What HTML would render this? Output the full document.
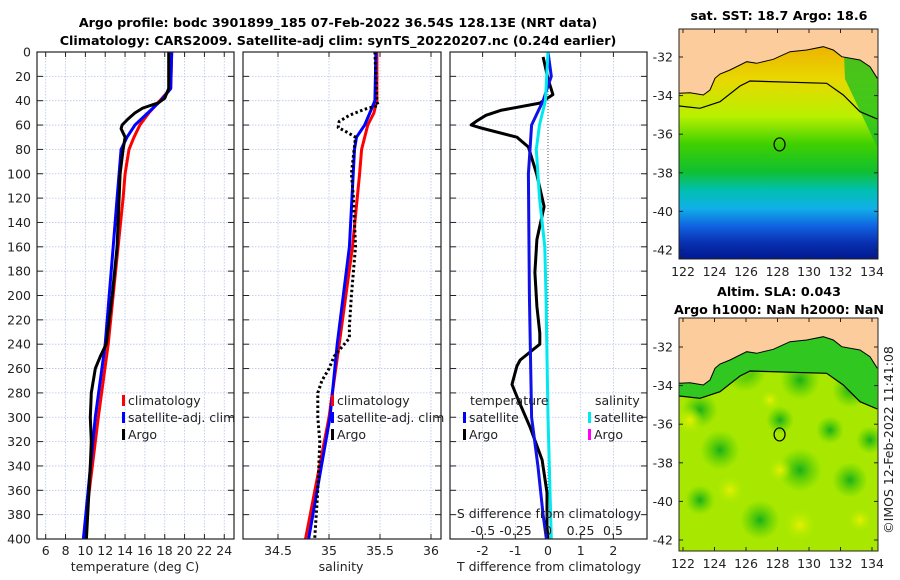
<!DOCTYPE html>
<html><head><meta charset="utf-8"><style>
html,body{margin:0;padding:0;background:#fff;}
svg{display:block;font-family:"DejaVu Sans","Liberation Sans",sans-serif;}
</style></head><body>
<svg id="chart" width="900" height="580" viewBox="0 0 900 580" xmlns="http://www.w3.org/2000/svg">
<defs>
<linearGradient id="sstg" x1="0" y1="0" x2="0" y2="1">
<stop offset="0" stop-color="#f0a000"/>
<stop offset="0.22" stop-color="#e8d800"/>
<stop offset="0.38" stop-color="#b8f000"/>
<stop offset="0.5" stop-color="#40d000"/>
<stop offset="0.62" stop-color="#10c030"/>
<stop offset="0.7" stop-color="#00c0b0"/>
<stop offset="0.78" stop-color="#10b0e8"/>
<stop offset="0.86" stop-color="#1060e0"/>
<stop offset="0.93" stop-color="#0830b0"/>
<stop offset="1" stop-color="#001890"/>
</linearGradient>
<radialGradient id="yb"><stop offset="0" stop-color="#e8f000"/><stop offset="1" stop-color="#b0ec00" stop-opacity="0"/></radialGradient>
<radialGradient id="gb"><stop offset="0" stop-color="#18b018"/><stop offset="1" stop-color="#40c800" stop-opacity="0"/></radialGradient>
<clipPath id="c1"><rect x="679" y="29" width="199" height="230"/></clipPath>
<clipPath id="c2"><rect x="679" y="318" width="199" height="233"/></clipPath>
</defs>
<g id="root"></g>
</svg>
<script>
// ---- data ----
const depthTicks=[0,20,40,60,80,100,120,140,160,180,200,220,240,260,280,300,320,340,360,380,400];
const tempTicks=[6,8,10,12,14,16,18,20,22,24];
const salTicks=[34.5,35,35.5,36];
const dTTicks=[-2,-1,0,1,2];
const dSTicks=[-0.5,-0.25,0,0.25,0.5];
const dSTickLabels=["-0.5","-0.25","0","0.25","0.5"];
const tClimDepth=[0,30,40,50,60,70,80,100,120,160,240,300,400];
const tClim=[18.7,18.6,17.5,16.4,15.5,14.9,14.4,14.0,13.8,13.3,12.3,11.3,9.8];
const tSatDepth=[0,30,40,50,60,70,80,100,120,160,240,300,400];
const tSat=[18.7,18.6,17.6,16.3,15.0,14.2,13.6,13.4,13.2,12.8,12.0,11.0,9.8];
const tArgoDepth=[0,30,38,42,46,50,55,60,63,70,80,100,120,160,200,240,250,260,270,280,300,320,340,400];
const tArgo=[18.4,18.4,18.0,17.3,15.8,15.0,14.3,13.7,13.6,14.0,13.8,13.5,13.4,13.2,12.7,12.1,11.5,11.0,10.8,10.6,10.5,10.6,10.5,10.1];
const sClimDepth=[0,40,50,60,80,100,160,240,300,400];
const sClim=[35.47,35.47,35.44,35.38,35.32,35.3,35.23,35.1,35.0,34.77];
const sSatDepth=[0,40,50,60,70,80,160,240,300,400];
const sSat=[35.46,35.45,35.4,35.35,35.27,35.25,35.2,35.08,35.01,34.8];
const sArgoDepth=[0,40,44,47,52,57,62,66,70,100,120,160,200,225,235,242,250,260,270,280,300,320,360,400];
const sArgo=[35.45,35.47,35.48,35.35,35.2,35.1,35.09,35.18,35.26,35.22,35.24,35.26,35.22,35.2,35.2,35.13,35.05,35.0,34.93,34.89,34.89,34.91,34.89,34.86];
const dTSatDepth=[0,20,40,60,100,200,300,340,380,400];
const dTSat=[0,0.1,-0.15,-0.5,-0.6,-0.57,-0.5,-0.31,-0.15,-0.05];
const dSSatDepth=[0,40,60,80,120,160,200,300,400];
const dSSat=[0,-0.02,-0.065,-0.09,-0.065,-0.025,-0.015,0,0.025];
const dTArgoDepth=[4,22,35,42,48,52,57,60,62,70,78,100,127,154,181,209,231,240,253,258,273,285,308,335,362,390,400];
const dTArgo=[-0.15,0,0.15,-0.25,-1.45,-1.9,-2.2,-2.35,-2.1,-0.95,-0.6,-0.35,-0.12,-0.34,-0.4,-0.34,-0.25,-0.25,-0.85,-0.95,-1.1,-0.92,-0.55,-0.18,-0.03,-0.03,0];
const latTicks=[-32,-34,-36,-38,-40,-42];
const lonTicks=[122,124,126,128,130,132,134];
const argoLon=128.13, argoLat=-36.54;

// ---- helpers ----
const NS="http://www.w3.org/2000/svg";
const root=document.getElementById('root');
function mk(tag,attrs,parent,txt){const e=document.createElementNS(NS,tag);for(const k in attrs)e.setAttribute(k,attrs[k]);if(txt!==undefined)e.textContent=txt;(parent||root).appendChild(e);return e;}
const yD=d=>52+d*1.2175;
const xT=t=>45.7+(t-6)*9.92;
const xS=s=>329+(s-35)*102;
const xDT=t=>548+t*32.7;
const xDS=s=>548+s*130;
const PB=539;

function panel(name,x0,x1,xticks,xf){
  const g=mk('g',{});
  
  
  depthTicks.forEach(d=>{const l=mk('line',{x1:x0,x2:x1,y1:yD(d),y2:yD(d),stroke:'#b8c4ec','stroke-width':0.8,'stroke-dasharray':'1.5,1.5'},g);
    });
  xticks.forEach(t=>{const X=xf(t);const l=mk('line',{x1:X,x2:X,y1:52,y2:PB,stroke:'#b8c4ec','stroke-width':0.8,'stroke-dasharray':'1.5,1.5'},g);
    
    mk('line',{x1:X,x2:X,y1:PB,y2:PB-5,stroke:'#222'},g);mk('line',{x1:X,x2:X,y1:52,y2:57,stroke:'#222'},g);});
  depthTicks.forEach(d=>{mk('line',{x1:x0,x2:x0+6,y1:yD(d),y2:yD(d),stroke:'#222'},g);mk('line',{x1:x1-6,x2:x1,y1:yD(d),y2:yD(d),stroke:'#222'},g);});
  return g;
}
function frame(g,x0,x1,name){const r=mk('rect',{x:x0,y:52,width:x1-x0,height:PB-52,fill:'none',stroke:'#222','stroke-width':1.2},g);}
function line(g,depths,vals,xf,color,name,dash){
  const pts=depths.map((d,i)=>xf(vals[i]).toFixed(1)+','+yD(d).toFixed(1)).join(' ');
  const p=mk('polyline',{points:pts,fill:'none',stroke:color,'stroke-width':3,'stroke-linejoin':'round'},g);
  if(dash)p.setAttribute('stroke-dasharray',dash);
  return p;
}
function txt(s,x,y,opt,parent,name){const t=mk('text',Object.assign({x:x,y:y,'font-size':12.5,fill:'#222'},opt||{}),parent,s);return t;}
function legendEntry(g,x,y,color,label,name){
  const r=mk('rect',{x:x,y:y-9,width:3,height:11,fill:color},g);
  txt(label,x+6,y+1,{},g,name);
}

// titles
txt('Argo profile: bodc 3901899_185 07-Feb-2022 36.54S 128.13E (NRT data)',338,27,{'font-weight':'bold','font-size':12.7,'text-anchor':'middle',fill:'#000'},root,'main-title');
txt('Climatology: CARS2009. Satellite-adj clim: synTS_20220207.nc (0.24d earlier)',338,45,{'font-weight':'bold','font-size':12.7,'text-anchor':'middle',fill:'#000'},root,'subtitle');

// panel 1
const g1=panel('temperature-panel',37,234,tempTicks,xT);
line(g1,tClimDepth,tClim,xT,'#ff0000','temp-climatology-line');
line(g1,tSatDepth,tSat,xT,'#0000ff','temp-satellite-line');
line(g1,tArgoDepth,tArgo,xT,'#000','temp-argo-line');
frame(g1,37,234,'temperature-axes-frame');
depthTicks.forEach(d=>txt(String(d),31,yD(d)+4.5,{'text-anchor':'end'},g1,'depth-tick-label'));
tempTicks.forEach(t=>txt(String(t),xT(t),555,{'text-anchor':'middle'},g1,'temp-tick-label'));
txt('temperature (deg C)',135,571,{'text-anchor':'middle'},g1,'temp-axis-title');
legendEntry(g1,122,404,'#ff0000','climatology','legend-climatology');
legendEntry(g1,122,421,'#0000ff','satellite-adj. clim','legend-satellite');
legendEntry(g1,122,438,'#000','Argo','legend-argo');

// panel 2
const g2=panel('salinity-panel',243,441,salTicks,xS);
line(g2,sClimDepth,sClim,xS,'#ff0000','sal-climatology-line');
line(g2,sSatDepth,sSat,xS,'#0000ff','sal-satellite-line');
line(g2,sArgoDepth,sArgo,xS,'#000','sal-argo-line','2.5,2.5');
frame(g2,243,441,'salinity-axes-frame');
salTicks.forEach(s=>txt(String(s),xS(s),555,{'text-anchor':'middle'},g2,'sal-tick-label'));
txt('salinity',341,571,{'text-anchor':'middle'},g2,'sal-axis-title');
legendEntry(g2,331,404,'#ff0000','climatology','legend-climatology');
legendEntry(g2,331,421,'#0000ff','satellite-adj. clim','legend-satellite');
legendEntry(g2,331,438,'#000','Argo','legend-argo');

// panel 3
const g3=panel('difference-panel',450,647,dTTicks.filter(t=>t!==0),xDT);
const z=mk('line',{x1:xDT(0),x2:xDT(0),y1:52,y2:PB,stroke:'#555','stroke-width':1,'stroke-dasharray':'1,2'},g3);

line(g3,dTArgoDepth,dTArgo,xDT,'#000','dT-argo-line');
line(g3,dTSatDepth,dTSat,xDT,'#1010e8','dT-satellite-line');
line(g3,dSSatDepth,dSSat,xDS,'#00e8f0','dS-satellite-line');
frame(g3,450,647,'difference-axes-frame');
dTTicks.forEach(t=>txt(String(t),xDT(t),555,{'text-anchor':'middle'},g3,'dT-tick-label'));
txt('T difference from climatology',549,571,{'text-anchor':'middle'},g3,'dT-axis-title');
txt('S difference from climatology',549,518,{'text-anchor':'middle'},g3,'dS-axis-title');
dSTicks.forEach((s,i)=>txt(dSTickLabels[i],xDS(s),535,{'text-anchor':'middle'},g3,'dS-tick-label'));
txt('temperature',470,405,{},g3,'legend-temperature-heading');
legendEntry(g3,463,421,'#0000ff','satellite','legend-t-satellite');
legendEntry(g3,463,438,'#000','Argo','legend-t-argo');
txt('salinity',595,405,{},g3,'legend-salinity-heading');
legendEntry(g3,588,421,'#00e8f0','satellite','legend-s-satellite');
legendEntry(g3,588,438,'#ff00ff','Argo','legend-s-argo');

// maps
const mx=lon=>683+(lon-122)*15.75;
const my=(lat,off)=>57+off+(-32-lat)*19.3;
const coast=[[58,280],[90,278],[130,285],[150,270],[165,235],[180,222],[210,210],[260,185],[290,190],[340,178],[390,155],[440,150],[490,140],[520,150],[545,170],[600,180],[630,200],[652,235]];
const shelf=[[58,318],[120,325],[180,305],[240,258],[270,243],[500,250],[550,285],[600,335],[652,357]];
function pts(arr,off){return arr.map(p=>((p[0]/3+660).toFixed(1)+','+(p[1]/3+off).toFixed(1))).join(' ');}
function map(name,off,top,h,clip,kind){
  const g=mk('g',{});
  const c=mk('g',{'clip-path':'url(#'+clip+')'},g);
  if(kind==='sst'){
    mk('rect',{x:679,y:top,width:199,height:h,fill:'url(#sstg)'},c);
    mk('polygon',{points:'843,'+(top)+' 878,'+(top)+' 878,'+(top+120)+' 845,'+(top+50),fill:'#20c020',opacity:0.8},c);
  }else{
    mk('rect',{x:679,y:top,width:199,height:h,fill:'#a8e800'},c);
    [[700,410,18],[745,370,22],[800,380,20],[850,390,18],[720,450,20],[800,470,22],[760,520,20],[850,480,18],[700,500,15],[830,430,14],[780,420,14],[870,440,14]].forEach(b=>mk('circle',{cx:b[0],cy:b[1],r:b[2],fill:'url(#gb)'},c));
    [[740,365,16],[690,420,14],[730,490,14],[780,470,12],[800,525,16],[860,520,12],[770,400,10]].forEach(b=>mk('circle',{cx:b[0],cy:b[1],r:b[2],fill:'url(#yb)'},c));
    mk('polygon',{points:pts(coast,off)+' '+pts(shelf.slice().reverse(),off),fill:'#30c820'},c);
  }
  const land=mk('polygon',{points:'679,'+top+' 878,'+top+' '+ '878,'+(235/3+off)+' '+pts(coast.slice().reverse(),off),fill:'#fccc9c'},c);
  
  mk('polyline',{points:pts(coast,off),fill:'none',stroke:'#000','stroke-width':1},c);
  const s=mk('polyline',{points:pts(shelf,off),fill:'none',stroke:'#000','stroke-width':1.2},c);
  
  const m=mk('ellipse',{cx:mx(argoLon),cy:my(argoLat,off-0.2),rx:5.5,ry:6.5,fill:'none',stroke:'#000','stroke-width':1.2},g);
  
  mk('rect',{x:679,y:top,width:199,height:h,fill:'none',stroke:'#222','stroke-width':1},g);
  latTicks.forEach(l=>{const Y=my(l,off);mk('line',{x1:679,x2:683,y1:Y,y2:Y,stroke:'#222'},g);mk('line',{x1:874,x2:878,y1:Y,y2:Y,stroke:'#222'},g);
    txt(String(l),673,Y+4.5,{'text-anchor':'end'},g,'lat-tick-label');});
  lonTicks.forEach(l=>{const X=mx(l);mk('line',{x1:X,x2:X,y1:top+h,y2:top+h-4,stroke:'#222'},g);mk('line',{x1:X,x2:X,y1:top,y2:top+4,stroke:'#222'},g);
    txt(String(l),X,top+h+17,{'text-anchor':'middle'},g,'lon-tick-label');});
  return g;
}
map('sst-map',0,29,230,'c1','sst');
map('sla-map',290,318,233,'c2','sla');
txt('sat. SST: 18.7 Argo: 18.6',779,20,{'font-weight':'bold','font-size':12.7,'text-anchor':'middle',fill:'#000'},root,'sst-map-title');
txt('Altim. SLA: 0.043',779,296,{'font-weight':'bold','font-size':12.7,'text-anchor':'middle',fill:'#000'},root,'sla-map-title');
txt('Argo h1000: NaN h2000: NaN',779,314,{'font-weight':'bold','font-size':12.7,'text-anchor':'middle',fill:'#000'},root,'sla-map-subtitle');
txt('©IMOS 12-Feb-2022 11:41:08',0,0,{'text-anchor':'middle',transform:'translate(893,440) rotate(-90)'},root,'copyright-stamp');
</script>
</body></html>
